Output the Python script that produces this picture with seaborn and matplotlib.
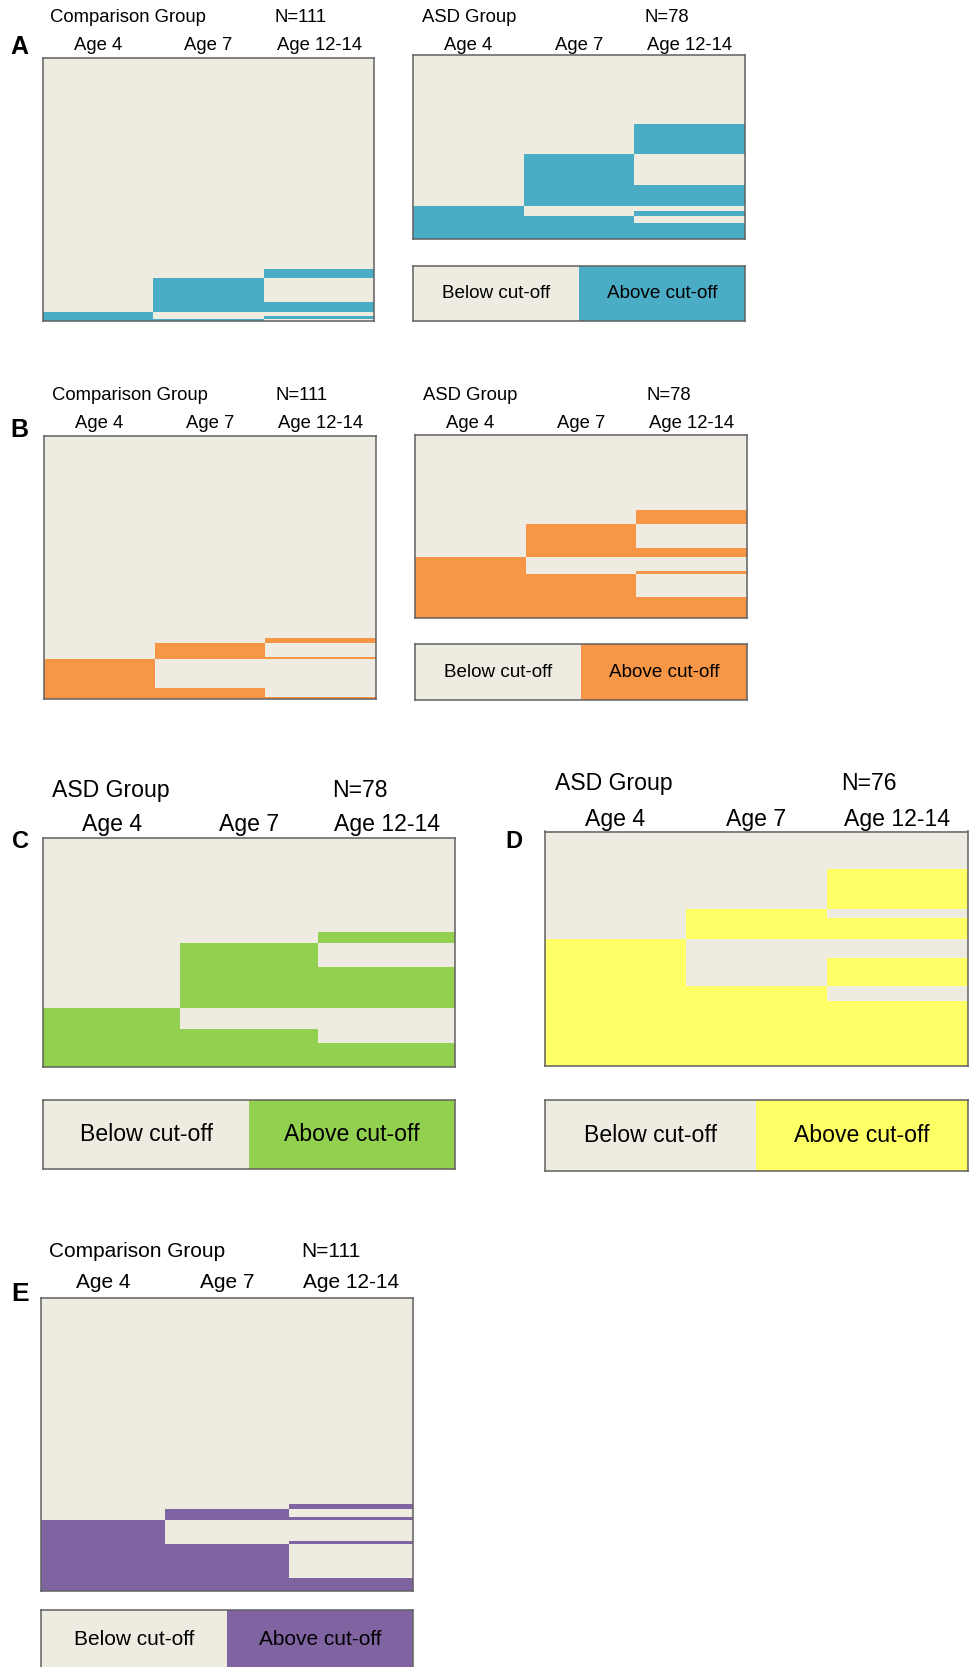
import numpy as np
import matplotlib
matplotlib.use("Agg")
import matplotlib.pyplot as plt
from matplotlib.colors import ListedColormap
import seaborn as sns

ages = ["Age 4", "Age 7", "Age 12-14"]
legend_labels = ["Below cut-off", "Above cut-off"]

# row patterns (Age 4, Age 7, Age 12-14): 0 = below cut-off, 1 = above
patterns = [(0, 0, 0), (0, 0, 1), (0, 1, 0), (0, 1, 1),
            (1, 0, 0), (1, 0, 1), (1, 1, 0), (1, 1, 1)]

# number of children with each pattern, top to bottom
counts_a_comp = [89, 4, 10, 4, 2, 1, 1, 0]
counts_a_asd = [29, 13, 13, 9, 2, 2, 3, 7]
counts_b_comp = [85, 2, 6, 1, 12, 0, 4, 1]
counts_b_asd = [32, 6, 10, 4, 6, 1, 10, 9]
counts_c_asd = [32, 4, 8, 14, 7, 0, 5, 8]
counts_d_asd = [12, 13, 3, 7, 6, 9, 5, 21]
counts_e_comp = [78, 2, 3, 1, 8, 1, 13, 5]

below_color = "#EEECE1"
edge_color = "#606060"

sns.set_style("white")
plt.rcParams['font.family'] = ['Liberation Sans', 'DejaVu Sans']
plt.rcParams['text.color'] = 'black'
plt.rcParams['xtick.color'] = 'black'
plt.rcParams['xtick.labelcolor'] = 'black'

W, H = 971, 1667
fig = plt.figure(figsize=(W / 100, H / 100), dpi=100)


def box(x0, y0, x1, y1):
    # pixel coords, origin top-left
    return fig.add_axes([x0 / W, 1 - y1 / H, (x1 - x0) / W, (y1 - y0) / H])


def outline(ax):
    for s in ax.spines.values():
        s.set_visible(True)
        s.set_color(edge_color)
        s.set_linewidth(1.1)


def panel(rect, counts, color, fs, label_y):
    ax = box(*rect)
    grid = np.repeat(np.array(patterns), counts, axis=0)
    sns.heatmap(grid, ax=ax, cmap=ListedColormap([below_color, color]),
                vmin=0, vmax=1, cbar=False, xticklabels=ages, yticklabels=False)
    ax.xaxis.tick_top()
    em = fs * 100 / 72
    pad_px = rect[1] - (label_y + 0.463 * em)
    ax.tick_params(axis='x', length=0, pad=pad_px * 0.72, labelsize=fs,
                   top=True, bottom=False, labeltop=True, labelbottom=False,
                   labelcolor='black')
    plt.setp(ax.get_xticklabels(), rotation=0)
    outline(ax)
    return ax


def legend(rect, color, fs):
    ax = box(*rect)
    sns.heatmap([[0, 1]], ax=ax, cmap=ListedColormap([below_color, color]),
                vmin=0, vmax=1, cbar=False, annot=np.array([legend_labels]), fmt="",
                annot_kws={"size": fs, "color": "black"},
                xticklabels=False, yticklabels=False)
    outline(ax)
    return ax


def header(x, y, s, fs):
    fig.text(x / W, 1 - y / H, s, fontsize=fs, ha='left', va='center', color='black')


def letter(x, y, s, fs):
    fig.text(x / W, 1 - y / H, s, fontsize=fs, fontweight='bold',
             ha='center', va='center', color='black')


blue = "#4BACC6"
orange = "#F79646"
green = "#92D050"
yellow = "#FFFF66"
purple = "#8064A2"

# A
letter(19, 47, "A", 18)
header(50, 17, "Comparison Group", 13.3)
header(275, 17, "N=111", 13.3)
header(422, 17, "ASD Group", 13.3)
header(645, 17, "N=78", 13.3)
panel((42.5, 58.3, 374.4, 321), counts_a_comp, blue, 13.3, 45.5)
panel((413.3, 55, 745, 239.3), counts_a_asd, blue, 13.3, 45.5)
legend((413.3, 265.7, 745, 320.7), blue, 13.6)

# B
letter(19, 430, "B", 18)
header(52, 395.6, "Comparison Group", 13.3)
header(275.5, 395.6, "N=111", 13.3)
header(423, 395.6, "ASD Group", 13.3)
header(646.6, 395.6, "N=78", 13.3)
panel((44, 436, 376, 699.5), counts_b_comp, orange, 13.3, 423.8)
panel((415, 435, 747, 618.3), counts_b_asd, orange, 13.3, 423.8)
legend((415, 644.5, 747, 699.8), orange, 13.6)

# C
letter(20, 842, "C", 17)
header(51.7, 790.7, "ASD Group", 16.6)
header(331.7, 790.7, "N=78", 16.6)
panel((43, 837.7, 455.3, 1066.7), counts_c_asd, green, 16.6, 825)
legend((43, 1099.6, 455.3, 1168.8), green, 16.6)

# D
letter(514, 842, "D", 17)
header(555, 783.3, "ASD Group", 16.6)
header(841, 783.3, "N=76", 16.6)
panel((544.5, 831.5, 967.5, 1066), counts_d_asd, yellow, 16.6, 820)
legend((544.5, 1099.6, 967.5, 1171), yellow, 16.6)

# E
letter(20.5, 1294, "E", 19)
header(49.3, 1251.7, "Comparison Group", 15)
header(301, 1251.7, "N=111", 15)
panel((40.7, 1298.3, 413.3, 1591), counts_e_comp, purple, 15, 1282.7)
legend((40.7, 1610, 413.3, 1669), purple, 15)

plt.savefig("out.png", dpi=100)
